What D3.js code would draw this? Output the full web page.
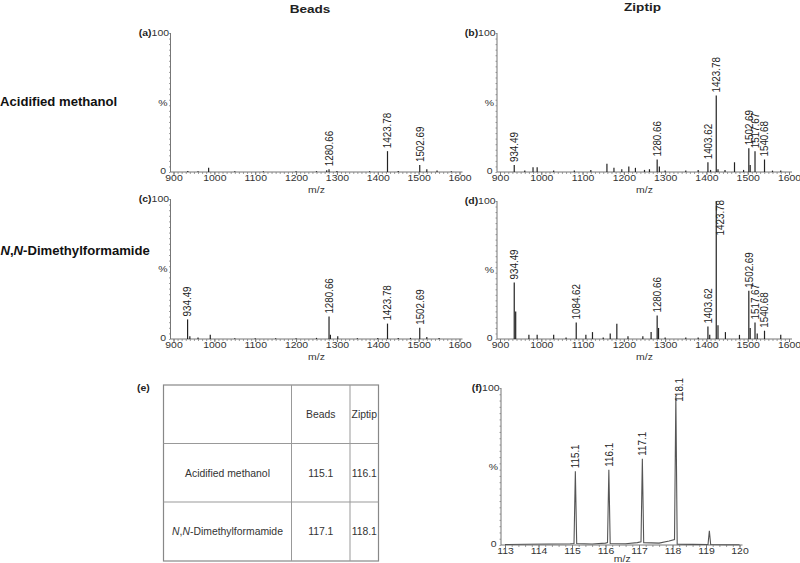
<!DOCTYPE html>
<html>
<head>
<meta charset="utf-8">
<script src="https://cdn.jsdelivr.net/npm/d3@7"></script>
<style>
body { margin: 0; background: #fff; }
svg { font-family: "Liberation Sans", Arial, sans-serif; }
</style>
</head>
<body>
<svg id="chart" width="800" height="563"></svg>
<script>
// ---- data (m/z, relative intensity %) ----
// (a) Beads, acidified methanol
const mzA  = [935, 960, 986, 1050, 1120, 1200, 1250, 1275, 1280.66, 1300, 1380, 1423.78, 1450, 1502.69, 1520, 1545, 1580];
const intA = [0.8, 0.6, 3, 0.5, 0.6, 0.5, 0.6, 1.2, 2, 0.8, 0.6, 15, 0.8, 5, 2, 1, 0.5];
const labA = [1280.66, 1423.78, 1502.69];

// (b) Ziptip, acidified methanol
const mzB  = [934.49, 960, 980, 990, 1030, 1080, 1120, 1159, 1176, 1195, 1212, 1228, 1250, 1262, 1280.66, 1286, 1300, 1350, 1380, 1403.62, 1410, 1423.78, 1428, 1445, 1468, 1490, 1502.69, 1506, 1517.67, 1540.68, 1560, 1580];
const intB = [5, 1, 3.5, 3.5, 1, 1, 1.5, 6, 3, 2, 4, 3, 1.5, 2, 9, 4, 1, 1, 1.5, 7, 1.5, 55, 2, 1.5, 7, 1.5, 17, 5, 15, 9, 1, 1];
const labB = [934.49, 1280.66, 1403.62, 1423.78, 1502.69, 1517.67, 1540.68];

// (c) Beads, N,N-dimethylformamide
const mzC  = [934.49, 940, 960, 990, 1050, 1100, 1150, 1200, 1250, 1280.66, 1284, 1302, 1350, 1400, 1423.78, 1450, 1480, 1502.69, 1520, 1550];
const intC = [14, 2, 1, 3, 0.6, 0.6, 0.6, 0.6, 0.8, 16, 3, 2, 0.6, 0.8, 11, 0.8, 0.8, 8, 1.5, 0.8];
const labC = [934.49, 1280.66, 1423.78, 1502.69];

// (d) Ziptip, N,N-dimethylformamide
const mzD  = [934.49, 938, 970, 990, 1030, 1060, 1084.62, 1108, 1124, 1150, 1167, 1183, 1210, 1246, 1266, 1280.66, 1284, 1300, 1350, 1380, 1403.62, 1408, 1423.78, 1428, 1446, 1480, 1502.69, 1506, 1517.67, 1523, 1540.68, 1580];
const intD = [41, 20, 3, 3, 3, 1, 12, 3, 5, 1, 4, 11, 2, 2, 5, 17, 8, 1, 1, 1, 9, 3, 100, 10, 5, 3, 35, 8, 12, 4, 6, 3];
const labD = [934.49, 1084.62, 1280.66, 1403.62, 1423.78, 1502.69, 1517.67, 1540.68];

// (f) low-mass trace
const mzF  = [113, 113.6, 114.3, 114.95, 115.06, 115.1, 115.14, 115.6, 116.0, 116.06, 116.1, 116.14, 116.6, 116.95, 117.06, 117.1, 117.14, 117.6, 117.9, 118.06, 118.1, 118.14, 118.6, 119.06, 119.1, 119.14, 119.6, 120];
const intF = [0.3, 0.5, 0.6, 0.8, 1, 47, 1, 0.6, 1.2, 1.5, 48, 1, 0.8, 1.5, 2, 55, 1.5, 1.2, 2.5, 3.5, 95, 0.5, 0.4, 0.3, 9, 0.3, 0.2, 0.2];
const labF = [115.1, 116.1, 117.1, 118.1];

// ---- table (e) ----
const tableCols = ["", "Beads", "Ziptip"];
const tableRows = ["Acidified methanol", "N,N-Dimethylformamide"];
const tableVals = [["115.1", "116.1"], ["117.1", "118.1"]];

const svg = d3.select("#chart");
const ink = "#222", axisCol = "#777", textCol = "#333";

// horizontally stretched text (figure was scaled wider than tall)
function stext(g, x, y, str, size, sx, anchor, weight) {
  return g.append("text")
    .attr("transform", `translate(${x},${y}) scale(${sx},1)`)
    .attr("text-anchor", anchor || "start")
    .style("font-size", size + "px")
    .style("font-weight", weight || "normal")
    .attr("fill", textCol)
    .text(str);
}

const panels = [
  { id: "(a)", mz: mzA, ints: intA, labs: labA, domain: [900, 1600], x0: 173.5, x1: 459.5, axisX: 170.5, yTop: 33, yBot: 172, labelTop: 33 },
  { id: "(b)", mz: mzB, ints: intB, labs: labB, domain: [900, 1600], x0: 500, x1: 789, axisX: 497, yTop: 33, yBot: 172, labelTop: 33 },
  { id: "(c)", mz: mzC, ints: intC, labs: labC, domain: [900, 1600], x0: 173.5, x1: 459.5, axisX: 170.5, yTop: 199, yBot: 339, labelTop: 199 },
  { id: "(d)", mz: mzD, ints: intD, labs: labD, domain: [900, 1600], x0: 500, x1: 789, axisX: 497, yTop: 201, yBot: 339, labelTop: 200 },
  { id: "(f)", mz: mzF, ints: intF, labs: labF, domain: [113, 120], x0: 505, x1: 739.5, axisX: 501, yTop: 388, yBot: 545, labelTop: 378, trace: true }
];

panels.forEach(p => {
  const x = d3.scaleLinear().domain(p.domain).range([p.x0, p.x1]);
  const y = d3.scaleLinear().domain([0, 100]).range([p.yBot, p.yTop]);
  const g = svg.append("g");
  const span = p.domain[1] - p.domain[0];
  const minorStep = p.trace ? 0.2 : 10;
  const majorStep = p.trace ? 1 : 100;

  // minor x ticks
  const minor = g.append("g").attr("transform", `translate(0,${p.yBot})`)
    .call(d3.axisBottom(x).tickValues(d3.range(0, span / minorStep + 0.5).map(i => p.domain[0] + i * minorStep))
      .tickSize(2).tickFormat(""));
  minor.select(".domain").remove();
  minor.selectAll("line").attr("stroke", axisCol).attr("stroke-width", 0.7);

  // major x ticks + labels
  const major = g.append("g").attr("transform", `translate(0,${p.yBot})`)
    .call(d3.axisBottom(x).tickValues(d3.range(0, span / majorStep + 0.5).map(i => p.domain[0] + i * majorStep))
      .tickSize(3).tickPadding(-0.5).tickFormat(d3.format("d")));
  major.select(".domain").remove();
  major.selectAll("line").attr("stroke", axisCol);
  major.selectAll("text")
    .attr("transform", "scale(1.2,1)")
    .attr("fill", textCol)
    .style("font-size", "8.7px")
    .style("font-family", "'Liberation Sans', Arial, sans-serif");

  // minor y ticks
  const ym = g.append("g").attr("transform", `translate(${p.axisX},0)`)
    .call(d3.axisLeft(y).tickValues(d3.range(0, 101, 4)).tickSize(1.5).tickFormat(""));
  ym.select(".domain").remove();
  ym.selectAll("line").attr("stroke", axisCol).attr("stroke-width", 0.7);

  // axis lines
  g.append("line").attr("x1", p.axisX).attr("x2", p.axisX).attr("y1", p.yBot).attr("y2", p.yTop)
    .attr("stroke", axisCol).attr("stroke-width", 1);
  g.append("line").attr("x1", p.axisX).attr("x2", p.x1 + 3).attr("y1", p.yBot).attr("y2", p.yBot)
    .attr("stroke", axisCol).attr("stroke-width", 1);

  // y labels
  stext(g, p.axisX - 4.5, y(0) + 1.5, "0", 8.7, 1.2, "end");
  stext(g, p.axisX - 3, y(50) + 3, "%", 8.7, 1.2, "end");
  const t100 = stext(g, p.axisX - 1.5, y(100) + 3, "", 8.7, 1.2, "end");
  t100.append("tspan").style("font-weight", "bold").attr("fill", "#222").text(p.id);
  t100.append("tspan").text("100");

  // m/z title
  stext(g, (p.x0 + p.x1) / 2, p.yBot + (p.trace ? 16.5 : 20.5), "m/z", 8.7, 1.2, "middle");

  // spectrum
  if (p.trace) {
    const line = d3.line().x((d, i) => x(p.mz[i])).y((d, i) => y(p.ints[i]));
    g.append("path").datum(p.ints).attr("d", line)
      .attr("fill", "none").attr("stroke", "#555").attr("stroke-width", 1.1);
  } else {
    g.selectAll(".peak").data(p.mz).enter().append("line")
      .attr("class", "peak")
      .attr("x1", d => x(d)).attr("x2", d => x(d))
      .attr("y1", y(0)).attr("y2", (d, i) => y(p.ints[i]))
      .attr("stroke", ink).attr("stroke-width", 1.2);
  }

  // peak labels (rotated)
  p.labs.forEach(m => {
    const i = p.mz.indexOf(m);
    const px = x(m), top = y(p.ints[i]);
    const str = p.trace ? m.toFixed(1) : m.toFixed(2);
    const t = g.append("text")
      .attr("text-anchor", "start")
      .style("font-size", "9.8px")
      .attr("fill", ink)
      .text(str);
    const len = t.node().getComputedTextLength();
    if (top - 3 - len < p.labelTop - 2) {
      t.attr("text-anchor", "end")
        .attr("transform", `translate(${px + 7.5},${p.labelTop}) scale(1.15,1) rotate(-90)`);
    } else {
      t.attr("transform", `translate(${px + 3.8},${top - 3}) scale(1.15,1) rotate(-90)`);
    }
  });
});

// column titles and row labels
stext(svg, 310, 12.5, "Beads", 11.3, 1.2, "middle", "bold").attr("fill", "#222");
stext(svg, 642.5, 10.5, "Ziptip", 11.3, 1.2, "middle", "bold").attr("fill", "#222");
stext(svg, 0, 105.5, "Acidified methanol", 12.5, 1.05, "start", "bold").attr("fill", "#111");
const rowLab = stext(svg, 0.5, 254.5, "", 12.5, 1.05, "start", "bold").attr("fill", "#111");
rowLab.append("tspan").style("font-style", "italic").text("N");
rowLab.append("tspan").text(",");
rowLab.append("tspan").style("font-style", "italic").text("N");
rowLab.append("tspan").text("-Dimethylformamide");

// ---- table (e) ----
const tg = svg.append("g");
stext(tg, 137, 390.5, "(e)", 8.7, 1.2, "start", "bold").attr("fill", "#222");
const colX = d3.scaleOrdinal().domain([0, 1, 2, 3]).range([163.5, 291.5, 350, 378.5]);
const rowY = d3.scaleOrdinal().domain([0, 1, 2, 3]).range([385, 443.5, 502, 561]);
tg.append("rect").attr("x", colX(0)).attr("y", rowY(0))
  .attr("width", colX(3) - colX(0)).attr("height", rowY(3) - rowY(0))
  .attr("fill", "none").attr("stroke", "#888").attr("stroke-width", 1.2);
[1, 2].forEach(c => tg.append("line").attr("x1", colX(c)).attr("x2", colX(c))
  .attr("y1", rowY(0)).attr("y2", rowY(3)).attr("stroke", "#999").attr("stroke-width", 1));
[1, 2].forEach(r => tg.append("line").attr("x1", colX(0)).attr("x2", colX(3))
  .attr("y1", rowY(r)).attr("y2", rowY(r)).attr("stroke", "#999").attr("stroke-width", 1));

const cellText = (c, r, str) => tg.append("text")
  .attr("x", (colX(c) + colX(c + 1)) / 2).attr("y", (rowY(r) + rowY(r + 1)) / 2 + 3.8)
  .attr("text-anchor", "middle").style("font-size", "10.4px").attr("fill", textCol).text(str);

tableCols.forEach((s, c) => { if (s) cellText(c, 0, s); });
tableRows.forEach((s, r) => {
  if (r === 1) {
    const t = cellText(0, r + 1, "");
    t.append("tspan").style("font-style", "italic").text("N");
    t.append("tspan").text(",");
    t.append("tspan").style("font-style", "italic").text("N");
    t.append("tspan").text("-Dimethylformamide");
  } else {
    cellText(0, r + 1, s);
  }
  tableVals[r].forEach((v, c) => cellText(c + 1, r + 1, v));
});
</script>
</body>
</html>
